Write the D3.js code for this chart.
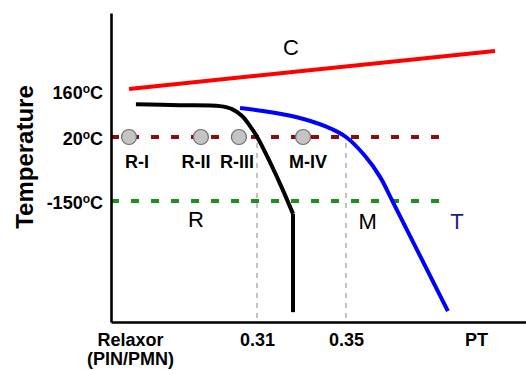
<!DOCTYPE html>
<html>
<head>
<meta charset="utf-8">
<script src="https://cdn.jsdelivr.net/npm/d3@7"></script>
<style>
body { margin: 0; background: #fff; }
text { font-family: "Liberation Sans", Arial, sans-serif; }
</style>
</head>
<body>
<div id="chart"></div>
<script>
var tempTicks = [160, 20, -150];
var compTicks = [0.2529, 0.31, 0.35, 0.4084];
var compLabels = ["Relaxor", "0.31", "0.35", "PT"];

var cubicLine = [[0.2525, 166], [0.4170, 283]];
var rBoundary = [[0.2556, 120], [0.2754, 117], [0.2934, 114], [0.2988, 105], [0.3033, 84],
  [0.3069, 53], [0.3104, 17], [0.3158, -46], [0.3212, -115], [0.3262, -184]];
var rTail = [[0.3262, -184], [0.3262, -444]];
var tBoundary = [[0.3024, 108], [0.3127, 99], [0.3275, 81], [0.3406, 53], [0.35, 20],
  [0.3585, -30], [0.3653, -86], [0.3711, -153], [0.3958, -441]];

var roomTemp = 20;
var lowTemp = -150;
var dashEnd = 0.3949;
var mpbComps = [0.31, 0.35];

var sampleNames = ["R-I", "R-II", "R-III", "M-IV"];
var sampleComp = [0.2525, 0.2848, 0.3019, 0.3307];
var sampleLabelComp = [0.2561, 0.2826, 0.3010, 0.3329];

var regionNames = ["C", "R", "M", "T"];
var regionComp = [0.3253, 0.2826, 0.3597, 0.3999];
var regionTemp = [271, -219, -224, -224];

var width = 526, height = 370;

var svg = d3.select("#chart").append("svg")
  .attr("width", width)
  .attr("height", height);

var x = d3.scaleLinear().domain([0.2444, 0.4309]).range([111, 526]);
// schematic temperature axis, not to scale between the marked temperatures
var y = d3.scaleLinear().domain([-470, -150, 20, 160, 400]).range([322, 201, 137, 91, 13]);

var line = d3.line()
  .x(function(d) { return x(d[0]); })
  .y(function(d) { return y(d[1]); });

// dashed isotherms
svg.append("line")
  .attr("x1", x.range()[0]).attr("x2", x(dashEnd))
  .attr("y1", y(roomTemp)).attr("y2", y(roomTemp))
  .attr("stroke", "#8a0c0c").attr("stroke-width", 4)
  .attr("stroke-dasharray", "8,12");

svg.append("line")
  .attr("x1", x.range()[0]).attr("x2", x(dashEnd))
  .attr("y1", y(lowTemp)).attr("y2", y(lowTemp))
  .attr("stroke", "#1f8f1f").attr("stroke-width", 4)
  .attr("stroke-dasharray", "8,12");

// grey dotted MPB markers
svg.selectAll(".mpb")
  .data(mpbComps)
  .enter().append("line")
  .attr("class", "mpb")
  .attr("x1", function(d) { return x(d); })
  .attr("x2", function(d) { return x(d); })
  .attr("y1", y(roomTemp) + 6)
  .attr("y2", y.range()[0])
  .attr("stroke", "#c2c2c2").attr("stroke-width", 2)
  .attr("stroke-dasharray", "5,5");

// phase boundaries
svg.append("path")
  .datum(cubicLine)
  .attr("d", line)
  .attr("fill", "none").attr("stroke", "#ff0000").attr("stroke-width", 4);

svg.append("path")
  .datum(rBoundary)
  .attr("d", line.curve(d3.curveCatmullRom.alpha(0.5)))
  .attr("fill", "none").attr("stroke", "#000").attr("stroke-width", 4);

svg.append("path")
  .datum(rTail)
  .attr("d", line.curve(d3.curveLinear))
  .attr("fill", "none").attr("stroke", "#000").attr("stroke-width", 4);

svg.append("path")
  .datum(tBoundary)
  .attr("d", line.curve(d3.curveCatmullRom.alpha(0.5)))
  .attr("fill", "none").attr("stroke", "#0000ff").attr("stroke-width", 4);

// samples
svg.selectAll(".sample")
  .data(sampleComp)
  .enter().append("circle")
  .attr("class", "sample")
  .attr("cx", function(d) { return x(d); })
  .attr("cy", y(roomTemp))
  .attr("r", 7.5)
  .attr("fill", "#c4c4c4").attr("stroke", "#6e6e6e").attr("stroke-width", 1.2);

svg.selectAll(".sampleLabel")
  .data(sampleNames)
  .enter().append("text")
  .attr("class", "sampleLabel")
  .attr("x", function(d, i) { return x(sampleLabelComp[i]); })
  .attr("y", y(roomTemp) + 31)
  .attr("text-anchor", "middle")
  .style("font-size", "18px").style("font-weight", "bold")
  .text(function(d) { return d; });

// region labels
svg.selectAll(".region")
  .data(regionNames)
  .enter().append("text")
  .attr("class", "region")
  .attr("x", function(d, i) { return x(regionComp[i]); })
  .attr("y", function(d, i) { return y(regionTemp[i]); })
  .attr("text-anchor", "middle")
  .style("font-size", "22px")
  .attr("fill", function(d) { return d == "T" ? "#1c1c8e" : "#000"; })
  .text(function(d) { return d; });

// axes
var yAxis = d3.axisLeft(y).tickValues(tempTicks).tickSize(0).tickSizeOuter(0).tickPadding(8);
var xAxis = d3.axisBottom(x).tickValues(compTicks).tickSize(0).tickSizeOuter(0).tickPadding(11)
  .tickFormat(function(d, i) { return compLabels[i]; });

var gy = svg.append("g")
  .attr("transform", "translate(" + x.range()[0] + ",0)")
  .call(yAxis);

var gx = svg.append("g")
  .attr("transform", "translate(0," + y.range()[0] + ")")
  .call(xAxis);

[gx, gy].forEach(function(g) {
  g.select(".domain").attr("stroke", "#000").attr("stroke-width", 2.6);
  g.selectAll("text")
    .attr("fill", "#000")
    .style("font-family", "'Liberation Sans', Arial, sans-serif")
    .style("font-size", "18px").style("font-weight", "bold");
});

gy.selectAll(".tick text")
  .attr("dy", "0.4em")
  .each(function(d) {
    var t = d3.select(this).text("");
    t.append("tspan").text(d);
    t.append("tspan").attr("dy", -6).style("font-size", "12px").text("o");
    t.append("tspan").attr("dy", 6).text("C");
  });

gx.selectAll(".tick text")
  .filter(function(d, i) { return i == 0; })
  .append("tspan")
  .attr("x", 0).attr("dy", "1.08em")
  .text("(PIN/PMN)");

svg.append("text")
  .attr("transform", "translate(33," + 157 + ") rotate(-90)")
  .attr("text-anchor", "middle")
  .style("font-size", "24px").style("font-weight", "bold")
  .text("Temperature");
</script>
</body>
</html>
